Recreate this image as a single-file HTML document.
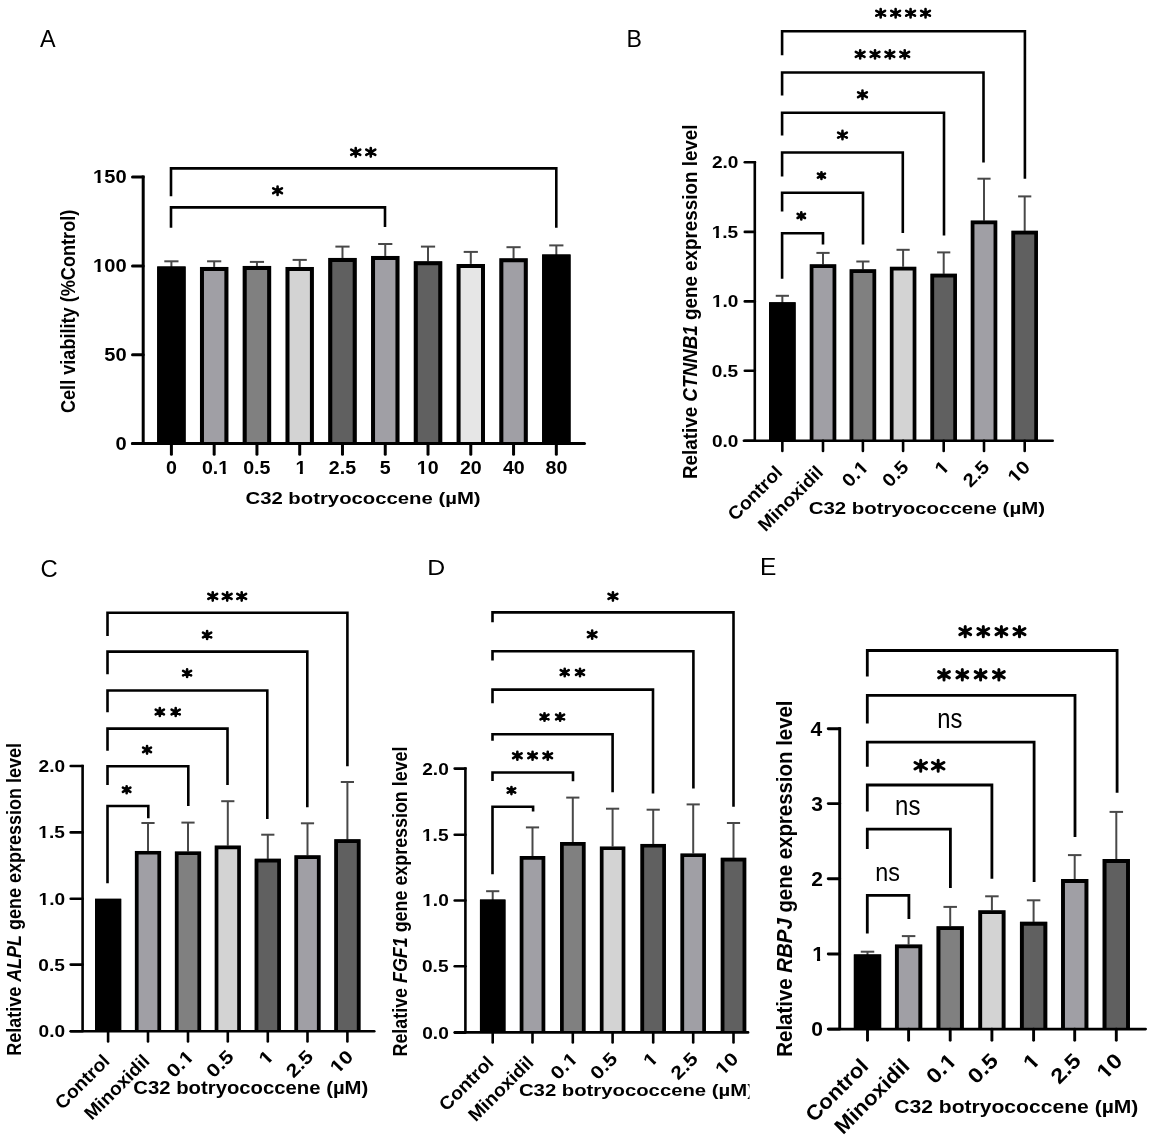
<!DOCTYPE html>
<html><head><meta charset="utf-8"><style>
html,body{margin:0;padding:0;background:#fff;width:1153px;height:1142px;overflow:hidden}
svg{display:block;filter:blur(0.5px)}
text{font-family:"Liberation Sans",sans-serif}
</style></head><body>
<svg width="1153" height="1142" viewBox="0 0 1153 1142">
<rect width="1153" height="1142" fill="#fff"/>
<g transform="translate(39.95,47.40) scale(0.9460,1)"><text font-size="24.71" font-weight="normal" fill="#000">A</text></g>
<line x1="171.40" y1="268.50" x2="171.40" y2="261.30" stroke="#484848" stroke-width="2" stroke-linecap="butt"/>
<line x1="164.30" y1="261.30" x2="178.50" y2="261.30" stroke="#484848" stroke-width="2" stroke-linecap="butt"/>
<rect x="157.20" y="266.50" width="28.40" height="177.00" fill="#000"/>
<path d="M159.20,443.50V268.50H183.60V443.50" fill="none" stroke="#000" stroke-width="4" stroke-linejoin="miter"/>
<line x1="214.17" y1="268.90" x2="214.17" y2="261.30" stroke="#484848" stroke-width="2" stroke-linecap="butt"/>
<line x1="207.07" y1="261.30" x2="221.27" y2="261.30" stroke="#484848" stroke-width="2" stroke-linecap="butt"/>
<rect x="199.97" y="266.90" width="28.40" height="176.60" fill="#a09fa5"/>
<path d="M201.97,443.50V268.90H226.37V443.50" fill="none" stroke="#000" stroke-width="4" stroke-linejoin="miter"/>
<line x1="256.94" y1="267.90" x2="256.94" y2="261.90" stroke="#484848" stroke-width="2" stroke-linecap="butt"/>
<line x1="249.84" y1="261.90" x2="264.04" y2="261.90" stroke="#484848" stroke-width="2" stroke-linecap="butt"/>
<rect x="242.74" y="265.90" width="28.40" height="177.60" fill="#808080"/>
<path d="M244.74,443.50V267.90H269.14V443.50" fill="none" stroke="#000" stroke-width="4" stroke-linejoin="miter"/>
<line x1="299.71" y1="268.90" x2="299.71" y2="259.90" stroke="#484848" stroke-width="2" stroke-linecap="butt"/>
<line x1="292.61" y1="259.90" x2="306.81" y2="259.90" stroke="#484848" stroke-width="2" stroke-linecap="butt"/>
<rect x="285.51" y="266.90" width="28.40" height="176.60" fill="#d3d3d3"/>
<path d="M287.51,443.50V268.90H311.91V443.50" fill="none" stroke="#000" stroke-width="4" stroke-linejoin="miter"/>
<line x1="342.48" y1="259.90" x2="342.48" y2="246.60" stroke="#484848" stroke-width="2" stroke-linecap="butt"/>
<line x1="335.38" y1="246.60" x2="349.58" y2="246.60" stroke="#484848" stroke-width="2" stroke-linecap="butt"/>
<rect x="328.28" y="257.90" width="28.40" height="185.60" fill="#606060"/>
<path d="M330.28,443.50V259.90H354.68V443.50" fill="none" stroke="#000" stroke-width="4" stroke-linejoin="miter"/>
<line x1="385.25" y1="257.90" x2="385.25" y2="244.00" stroke="#484848" stroke-width="2" stroke-linecap="butt"/>
<line x1="378.15" y1="244.00" x2="392.35" y2="244.00" stroke="#484848" stroke-width="2" stroke-linecap="butt"/>
<rect x="371.05" y="255.90" width="28.40" height="187.60" fill="#a09fa5"/>
<path d="M373.05,443.50V257.90H397.45V443.50" fill="none" stroke="#000" stroke-width="4" stroke-linejoin="miter"/>
<line x1="428.02" y1="263.30" x2="428.02" y2="246.60" stroke="#484848" stroke-width="2" stroke-linecap="butt"/>
<line x1="420.92" y1="246.60" x2="435.12" y2="246.60" stroke="#484848" stroke-width="2" stroke-linecap="butt"/>
<rect x="413.82" y="261.30" width="28.40" height="182.20" fill="#606060"/>
<path d="M415.82,443.50V263.30H440.22V443.50" fill="none" stroke="#000" stroke-width="4" stroke-linejoin="miter"/>
<line x1="470.79" y1="265.90" x2="470.79" y2="251.90" stroke="#484848" stroke-width="2" stroke-linecap="butt"/>
<line x1="463.69" y1="251.90" x2="477.89" y2="251.90" stroke="#484848" stroke-width="2" stroke-linecap="butt"/>
<rect x="456.59" y="263.90" width="28.40" height="179.60" fill="#e6e6e6"/>
<path d="M458.59,443.50V265.90H482.99V443.50" fill="none" stroke="#000" stroke-width="4" stroke-linejoin="miter"/>
<line x1="513.56" y1="260.30" x2="513.56" y2="247.20" stroke="#484848" stroke-width="2" stroke-linecap="butt"/>
<line x1="506.46" y1="247.20" x2="520.66" y2="247.20" stroke="#484848" stroke-width="2" stroke-linecap="butt"/>
<rect x="499.36" y="258.30" width="28.40" height="185.20" fill="#a09fa5"/>
<path d="M501.36,443.50V260.30H525.76V443.50" fill="none" stroke="#000" stroke-width="4" stroke-linejoin="miter"/>
<line x1="556.33" y1="256.50" x2="556.33" y2="245.40" stroke="#484848" stroke-width="2" stroke-linecap="butt"/>
<line x1="549.23" y1="245.40" x2="563.43" y2="245.40" stroke="#484848" stroke-width="2" stroke-linecap="butt"/>
<rect x="542.13" y="254.50" width="28.40" height="189.00" fill="#000"/>
<path d="M544.13,443.50V256.50H568.53V443.50" fill="none" stroke="#000" stroke-width="4" stroke-linejoin="miter"/>
<line x1="143.20" y1="175.50" x2="143.20" y2="443.50" stroke="#000" stroke-width="3" stroke-linecap="butt"/>
<line x1="132.50" y1="443.50" x2="143.20" y2="443.50" stroke="#000" stroke-width="3" stroke-linecap="round"/>
<line x1="132.50" y1="354.70" x2="143.20" y2="354.70" stroke="#000" stroke-width="3" stroke-linecap="round"/>
<line x1="132.50" y1="266.00" x2="143.20" y2="266.00" stroke="#000" stroke-width="3" stroke-linecap="round"/>
<line x1="132.50" y1="177.00" x2="143.20" y2="177.00" stroke="#000" stroke-width="3" stroke-linecap="round"/>
<line x1="132.50" y1="443.50" x2="584.50" y2="443.50" stroke="#000" stroke-width="3" stroke-linecap="round"/>
<line x1="171.40" y1="443.50" x2="171.40" y2="454.30" stroke="#000" stroke-width="3" stroke-linecap="round"/>
<line x1="214.17" y1="443.50" x2="214.17" y2="454.30" stroke="#000" stroke-width="3" stroke-linecap="round"/>
<line x1="256.94" y1="443.50" x2="256.94" y2="454.30" stroke="#000" stroke-width="3" stroke-linecap="round"/>
<line x1="299.71" y1="443.50" x2="299.71" y2="454.30" stroke="#000" stroke-width="3" stroke-linecap="round"/>
<line x1="342.48" y1="443.50" x2="342.48" y2="454.30" stroke="#000" stroke-width="3" stroke-linecap="round"/>
<line x1="385.25" y1="443.50" x2="385.25" y2="454.30" stroke="#000" stroke-width="3" stroke-linecap="round"/>
<line x1="428.02" y1="443.50" x2="428.02" y2="454.30" stroke="#000" stroke-width="3" stroke-linecap="round"/>
<line x1="470.79" y1="443.50" x2="470.79" y2="454.30" stroke="#000" stroke-width="3" stroke-linecap="round"/>
<line x1="513.56" y1="443.50" x2="513.56" y2="454.30" stroke="#000" stroke-width="3" stroke-linecap="round"/>
<line x1="556.33" y1="443.50" x2="556.33" y2="454.30" stroke="#000" stroke-width="3" stroke-linecap="round"/>
<g transform="translate(115.43,449.61) scale(1.1500,1)"><text font-size="17.50" font-weight="bold">0</text></g>
<g transform="translate(104.24,360.81) scale(1.1500,1)"><text font-size="17.50" font-weight="bold">50</text></g>
<g transform="translate(93.05,272.11) scale(1.1500,1)"><text font-size="17.50" font-weight="bold">100</text><rect x="0.34" y="-2.48" width="3.62" height="3.68" fill="#fff"/><rect x="6.61" y="-2.48" width="3.31" height="3.68" fill="#fff"/></g>
<g transform="translate(93.05,183.11) scale(1.1500,1)"><text font-size="17.50" font-weight="bold">150</text><rect x="0.34" y="-2.48" width="3.62" height="3.68" fill="#fff"/><rect x="6.61" y="-2.48" width="3.31" height="3.68" fill="#fff"/></g>
<polyline points="171.00,196.30 171.00,168.40 556.30,168.40 556.30,227.80" fill="none" stroke="#000" stroke-width="2.6" stroke-linejoin="miter" stroke-linecap="butt"/>
<polyline points="171.00,227.70 171.00,207.40 385.00,207.40 385.00,227.10" fill="none" stroke="#000" stroke-width="2.6" stroke-linejoin="miter" stroke-linecap="butt"/>
<path d="M355.72,148.00V156.60M351.20,149.72L360.25,154.88M351.20,154.88L360.25,149.72" stroke="#000" stroke-width="2.6" stroke-linecap="round" fill="none"/>
<circle cx="355.72" cy="152.30" r="2.47" fill="#000"/>
<path d="M370.78,148.00V156.60M366.25,149.72L375.30,154.88M366.25,154.88L375.30,149.72" stroke="#000" stroke-width="2.6" stroke-linecap="round" fill="none"/>
<circle cx="370.78" cy="152.30" r="2.47" fill="#000"/>
<path d="M277.57,186.60V194.90M273.20,188.26L281.94,193.24M273.20,193.24L281.94,188.26" stroke="#000" stroke-width="2.6" stroke-linecap="round" fill="none"/>
<circle cx="277.57" cy="190.75" r="2.47" fill="#000"/>
<g transform="translate(165.96,474.47) scale(1.0900,1)"><text font-size="18.00" font-weight="bold">0</text></g>
<g transform="translate(201.96,474.47) scale(1.0900,1)"><text font-size="18.00" font-weight="bold">0.1</text><rect x="15.36" y="-2.55" width="3.73" height="3.75" fill="#fff"/><rect x="21.81" y="-2.55" width="3.40" height="3.75" fill="#fff"/></g>
<g transform="translate(243.19,474.47) scale(1.0900,1)"><text font-size="18.00" font-weight="bold">0.5</text></g>
<g transform="translate(295.40,474.28) scale(1.0900,1)"><text font-size="18.00" font-weight="bold">1</text><rect x="0.35" y="-2.55" width="3.73" height="3.75" fill="#fff"/><rect x="6.79" y="-2.55" width="3.40" height="3.75" fill="#fff"/></g>
<g transform="translate(328.78,474.47) scale(1.0900,1)"><text font-size="18.00" font-weight="bold">2.5</text></g>
<g transform="translate(379.77,474.28) scale(1.0900,1)"><text font-size="18.00" font-weight="bold">5</text></g>
<g transform="translate(416.84,474.47) scale(1.0900,1)"><text font-size="18.00" font-weight="bold">10</text><rect x="0.35" y="-2.55" width="3.73" height="3.75" fill="#fff"/><rect x="6.79" y="-2.55" width="3.40" height="3.75" fill="#fff"/></g>
<g transform="translate(459.94,474.47) scale(1.0900,1)"><text font-size="18.00" font-weight="bold">20</text></g>
<g transform="translate(502.90,474.47) scale(1.0900,1)"><text font-size="18.00" font-weight="bold">40</text></g>
<g transform="translate(545.51,474.47) scale(1.0900,1)"><text font-size="18.00" font-weight="bold">80</text></g>
<g transform="translate(245.47,504.40) scale(1.2807,1)"><text font-size="15.87" font-weight="bold" fill="#000">C32 botryococcene (µM)</text></g>
<text transform="translate(74.90,413.04) rotate(-90) scale(0.8875,1)" font-size="20.42" font-weight="bold">Cell viability (%Control)</text>
<g transform="translate(626.50,46.80) scale(0.9695,1)"><text font-size="23.84" font-weight="normal" fill="#000">B</text></g>
<line x1="782.35" y1="304.30" x2="782.35" y2="295.80" stroke="#484848" stroke-width="2" stroke-linecap="butt"/>
<line x1="775.75" y1="295.80" x2="788.95" y2="295.80" stroke="#484848" stroke-width="2" stroke-linecap="butt"/>
<rect x="769.10" y="302.30" width="26.50" height="138.50" fill="#000"/>
<path d="M770.95,440.80V304.15H793.75V440.80" fill="none" stroke="#000" stroke-width="3.7" stroke-linejoin="miter"/>
<line x1="823.00" y1="266.30" x2="823.00" y2="252.90" stroke="#484848" stroke-width="2" stroke-linecap="butt"/>
<line x1="816.40" y1="252.90" x2="829.60" y2="252.90" stroke="#484848" stroke-width="2" stroke-linecap="butt"/>
<rect x="809.75" y="264.30" width="26.50" height="176.50" fill="#a09fa5"/>
<path d="M811.60,440.80V266.15H834.40V440.80" fill="none" stroke="#000" stroke-width="3.7" stroke-linejoin="miter"/>
<line x1="862.90" y1="271.30" x2="862.90" y2="261.50" stroke="#484848" stroke-width="2" stroke-linecap="butt"/>
<line x1="856.30" y1="261.50" x2="869.50" y2="261.50" stroke="#484848" stroke-width="2" stroke-linecap="butt"/>
<rect x="849.65" y="269.30" width="26.50" height="171.50" fill="#808080"/>
<path d="M851.50,440.80V271.15H874.30V440.80" fill="none" stroke="#000" stroke-width="3.7" stroke-linejoin="miter"/>
<line x1="903.10" y1="268.70" x2="903.10" y2="249.80" stroke="#484848" stroke-width="2" stroke-linecap="butt"/>
<line x1="896.50" y1="249.80" x2="909.70" y2="249.80" stroke="#484848" stroke-width="2" stroke-linecap="butt"/>
<rect x="889.85" y="266.70" width="26.50" height="174.10" fill="#d3d3d3"/>
<path d="M891.70,440.80V268.55H914.50V440.80" fill="none" stroke="#000" stroke-width="3.7" stroke-linejoin="miter"/>
<line x1="943.70" y1="275.70" x2="943.70" y2="252.40" stroke="#484848" stroke-width="2" stroke-linecap="butt"/>
<line x1="937.10" y1="252.40" x2="950.30" y2="252.40" stroke="#484848" stroke-width="2" stroke-linecap="butt"/>
<rect x="930.45" y="273.70" width="26.50" height="167.10" fill="#606060"/>
<path d="M932.30,440.80V275.55H955.10V440.80" fill="none" stroke="#000" stroke-width="3.7" stroke-linejoin="miter"/>
<line x1="984.00" y1="222.60" x2="984.00" y2="178.70" stroke="#484848" stroke-width="2" stroke-linecap="butt"/>
<line x1="977.40" y1="178.70" x2="990.60" y2="178.70" stroke="#484848" stroke-width="2" stroke-linecap="butt"/>
<rect x="970.75" y="220.60" width="26.50" height="220.20" fill="#a09fa5"/>
<path d="M972.60,440.80V222.45H995.40V440.80" fill="none" stroke="#000" stroke-width="3.7" stroke-linejoin="miter"/>
<line x1="1024.70" y1="232.80" x2="1024.70" y2="196.40" stroke="#484848" stroke-width="2" stroke-linecap="butt"/>
<line x1="1018.10" y1="196.40" x2="1031.30" y2="196.40" stroke="#484848" stroke-width="2" stroke-linecap="butt"/>
<rect x="1011.45" y="230.80" width="26.50" height="210.00" fill="#606060"/>
<path d="M1013.30,440.80V232.65H1036.10V440.80" fill="none" stroke="#000" stroke-width="3.7" stroke-linejoin="miter"/>
<line x1="754.80" y1="160.90" x2="754.80" y2="440.80" stroke="#000" stroke-width="2.6" stroke-linecap="butt"/>
<line x1="744.80" y1="440.80" x2="754.80" y2="440.80" stroke="#000" stroke-width="2.6" stroke-linecap="round"/>
<line x1="744.80" y1="370.70" x2="754.80" y2="370.70" stroke="#000" stroke-width="2.6" stroke-linecap="round"/>
<line x1="744.80" y1="301.40" x2="754.80" y2="301.40" stroke="#000" stroke-width="2.6" stroke-linecap="round"/>
<line x1="744.80" y1="231.90" x2="754.80" y2="231.90" stroke="#000" stroke-width="2.6" stroke-linecap="round"/>
<line x1="744.80" y1="162.20" x2="754.80" y2="162.20" stroke="#000" stroke-width="2.6" stroke-linecap="round"/>
<line x1="743.90" y1="440.80" x2="1052.70" y2="440.80" stroke="#000" stroke-width="2.6" stroke-linecap="round"/>
<line x1="782.35" y1="440.80" x2="782.35" y2="451.00" stroke="#000" stroke-width="2.6" stroke-linecap="round"/>
<line x1="823.00" y1="440.80" x2="823.00" y2="451.00" stroke="#000" stroke-width="2.6" stroke-linecap="round"/>
<line x1="862.90" y1="440.80" x2="862.90" y2="451.00" stroke="#000" stroke-width="2.6" stroke-linecap="round"/>
<line x1="903.10" y1="440.80" x2="903.10" y2="451.00" stroke="#000" stroke-width="2.6" stroke-linecap="round"/>
<line x1="943.70" y1="440.80" x2="943.70" y2="451.00" stroke="#000" stroke-width="2.6" stroke-linecap="round"/>
<line x1="984.00" y1="440.80" x2="984.00" y2="451.00" stroke="#000" stroke-width="2.6" stroke-linecap="round"/>
<line x1="1024.70" y1="440.80" x2="1024.70" y2="451.00" stroke="#000" stroke-width="2.6" stroke-linecap="round"/>
<g transform="translate(711.94,446.70) scale(1.1300,1)"><text font-size="16.90" font-weight="bold">0.0</text></g>
<g transform="translate(711.68,376.60) scale(1.1300,1)"><text font-size="16.90" font-weight="bold">0.5</text></g>
<g transform="translate(711.94,307.30) scale(1.1300,1)"><text font-size="16.90" font-weight="bold">1.0</text><rect x="0.33" y="-2.39" width="3.50" height="3.59" fill="#fff"/><rect x="6.38" y="-2.39" width="3.19" height="3.59" fill="#fff"/></g>
<g transform="translate(711.68,237.71) scale(1.1300,1)"><text font-size="16.90" font-weight="bold">1.5</text><rect x="0.33" y="-2.39" width="3.50" height="3.59" fill="#fff"/><rect x="6.38" y="-2.39" width="3.19" height="3.59" fill="#fff"/></g>
<g transform="translate(711.94,168.10) scale(1.1300,1)"><text font-size="16.90" font-weight="bold">2.0</text></g>
<polyline points="782.10,55.30 782.10,31.20 1024.90,31.20 1024.90,178.70" fill="none" stroke="#000" stroke-width="2.6" stroke-linejoin="miter" stroke-linecap="butt"/>
<polyline points="782.10,95.50 782.10,72.50 983.50,72.50 983.50,162.60" fill="none" stroke="#000" stroke-width="2.6" stroke-linejoin="miter" stroke-linecap="butt"/>
<polyline points="782.10,135.60 782.10,112.70 944.00,112.70 944.00,235.50" fill="none" stroke="#000" stroke-width="2.6" stroke-linejoin="miter" stroke-linecap="butt"/>
<polyline points="782.10,176.40 782.10,152.50 902.80,152.50 902.80,232.90" fill="none" stroke="#000" stroke-width="2.6" stroke-linejoin="miter" stroke-linecap="butt"/>
<polyline points="782.10,211.50 782.10,192.70 863.00,192.70 863.00,244.60" fill="none" stroke="#000" stroke-width="2.6" stroke-linejoin="miter" stroke-linecap="butt"/>
<polyline points="782.10,278.80 782.10,233.30 823.00,233.30 823.00,244.60" fill="none" stroke="#000" stroke-width="2.6" stroke-linejoin="miter" stroke-linecap="butt"/>
<path d="M880.67,9.10V17.40M876.30,10.76L885.04,15.74M876.30,15.74L885.04,10.76" stroke="#000" stroke-width="2.6" stroke-linecap="round" fill="none"/>
<circle cx="880.67" cy="13.25" r="2.47" fill="#000"/>
<path d="M895.62,9.10V17.40M891.25,10.76L899.99,15.74M891.25,15.74L899.99,10.76" stroke="#000" stroke-width="2.6" stroke-linecap="round" fill="none"/>
<circle cx="895.62" cy="13.25" r="2.47" fill="#000"/>
<path d="M910.58,9.10V17.40M906.21,10.76L914.95,15.74M906.21,15.74L914.95,10.76" stroke="#000" stroke-width="2.6" stroke-linecap="round" fill="none"/>
<circle cx="910.58" cy="13.25" r="2.47" fill="#000"/>
<path d="M925.53,9.10V17.40M921.16,10.76L929.90,15.74M921.16,15.74L929.90,10.76" stroke="#000" stroke-width="2.6" stroke-linecap="round" fill="none"/>
<circle cx="925.53" cy="13.25" r="2.47" fill="#000"/>
<path d="M860.17,50.20V58.50M855.80,51.86L864.54,56.84M855.80,56.84L864.54,51.86" stroke="#000" stroke-width="2.6" stroke-linecap="round" fill="none"/>
<circle cx="860.17" cy="54.35" r="2.47" fill="#000"/>
<path d="M875.02,50.20V58.50M870.65,51.86L879.39,56.84M870.65,56.84L879.39,51.86" stroke="#000" stroke-width="2.6" stroke-linecap="round" fill="none"/>
<circle cx="875.02" cy="54.35" r="2.47" fill="#000"/>
<path d="M889.88,50.20V58.50M885.51,51.86L894.25,56.84M885.51,56.84L894.25,51.86" stroke="#000" stroke-width="2.6" stroke-linecap="round" fill="none"/>
<circle cx="889.88" cy="54.35" r="2.47" fill="#000"/>
<path d="M904.73,50.20V58.50M900.36,51.86L909.10,56.84M900.36,56.84L909.10,51.86" stroke="#000" stroke-width="2.6" stroke-linecap="round" fill="none"/>
<circle cx="904.73" cy="54.35" r="2.47" fill="#000"/>
<path d="M862.47,90.60V98.90M858.10,92.26L866.84,97.24M858.10,97.24L866.84,92.26" stroke="#000" stroke-width="2.6" stroke-linecap="round" fill="none"/>
<circle cx="862.47" cy="94.75" r="2.47" fill="#000"/>
<path d="M842.47,130.90V139.20M838.10,132.56L846.84,137.54M838.10,137.54L846.84,132.56" stroke="#000" stroke-width="2.6" stroke-linecap="round" fill="none"/>
<circle cx="842.47" cy="135.05" r="2.47" fill="#000"/>
<path d="M821.44,172.20V178.90M817.90,173.54L824.97,177.56M817.90,177.56L824.97,173.54" stroke="#000" stroke-width="2.6" stroke-linecap="round" fill="none"/>
<circle cx="821.44" cy="175.55" r="2.47" fill="#000"/>
<path d="M801.29,212.40V219.40M797.60,213.80L804.98,218.00M797.60,218.00L804.98,213.80" stroke="#000" stroke-width="2.6" stroke-linecap="round" fill="none"/>
<circle cx="801.29" cy="215.90" r="2.47" fill="#000"/>
<g transform="translate(783.65,473.50) rotate(-45) scale(1.0400,1)"><text font-size="18.50" font-weight="bold" text-anchor="end">Control</text></g>
<g transform="translate(824.30,473.50) rotate(-45) scale(1.0400,1)"><text font-size="18.50" font-weight="bold" text-anchor="end">Minoxidil</text></g>
<g transform="translate(869.50,468.20) rotate(-45) scale(1.1024,1)"><text font-size="18.50" font-weight="bold" text-anchor="end">0.1</text><rect x="-9.93" y="-2.62" width="3.83" height="3.82" fill="#fff"/><rect x="-3.31" y="-2.62" width="3.50" height="3.82" fill="#fff"/></g>
<g transform="translate(909.70,468.20) rotate(-45) scale(1.1024,1)"><text font-size="18.50" font-weight="bold" text-anchor="end">0.5</text></g>
<g transform="translate(950.30,468.20) rotate(-45) scale(1.1024,1)"><text font-size="18.50" font-weight="bold" text-anchor="end">1</text><rect x="-9.93" y="-2.62" width="3.83" height="3.82" fill="#fff"/><rect x="-3.31" y="-2.62" width="3.50" height="3.82" fill="#fff"/></g>
<g transform="translate(990.60,468.20) rotate(-45) scale(1.1024,1)"><text font-size="18.50" font-weight="bold" text-anchor="end">2.5</text></g>
<g transform="translate(1031.30,468.20) rotate(-45) scale(1.1024,1)"><text font-size="18.50" font-weight="bold" text-anchor="end">10</text><rect x="-20.22" y="-2.62" width="3.83" height="3.82" fill="#fff"/><rect x="-13.59" y="-2.62" width="3.50" height="3.82" fill="#fff"/></g>
<g transform="translate(808.66,513.70) scale(1.2435,1)"><text font-size="16.42" font-weight="bold" fill="#000">C32 botryococcene (µM)</text></g>
<text transform="translate(696.70,479.06) rotate(-90) scale(0.9479,1)" font-size="19.87" font-weight="bold"><tspan font-style="normal">Relative </tspan><tspan font-style="italic">CTNNB1</tspan><tspan font-style="normal"> gene expression level</tspan></text>
<g transform="translate(40.49,577.40) scale(1.0214,1)"><text font-size="23.34" font-weight="normal" fill="#000">C</text></g>
<rect x="95.00" y="898.80" width="26.20" height="132.40" fill="#000"/>
<path d="M96.85,1031.20V900.65H119.35V1031.20" fill="none" stroke="#000" stroke-width="3.7" stroke-linejoin="miter"/>
<line x1="148.00" y1="852.90" x2="148.00" y2="823.00" stroke="#484848" stroke-width="2" stroke-linecap="butt"/>
<line x1="141.40" y1="823.00" x2="154.60" y2="823.00" stroke="#484848" stroke-width="2" stroke-linecap="butt"/>
<rect x="134.90" y="850.90" width="26.20" height="180.30" fill="#a09fa5"/>
<path d="M136.75,1031.20V852.75H159.25V1031.20" fill="none" stroke="#000" stroke-width="3.7" stroke-linejoin="miter"/>
<line x1="188.00" y1="853.40" x2="188.00" y2="822.60" stroke="#484848" stroke-width="2" stroke-linecap="butt"/>
<line x1="181.40" y1="822.60" x2="194.60" y2="822.60" stroke="#484848" stroke-width="2" stroke-linecap="butt"/>
<rect x="174.90" y="851.40" width="26.20" height="179.80" fill="#808080"/>
<path d="M176.75,1031.20V853.25H199.25V1031.20" fill="none" stroke="#000" stroke-width="3.7" stroke-linejoin="miter"/>
<line x1="227.80" y1="847.60" x2="227.80" y2="801.20" stroke="#484848" stroke-width="2" stroke-linecap="butt"/>
<line x1="221.20" y1="801.20" x2="234.40" y2="801.20" stroke="#484848" stroke-width="2" stroke-linecap="butt"/>
<rect x="214.70" y="845.60" width="26.20" height="185.60" fill="#d3d3d3"/>
<path d="M216.55,1031.20V847.45H239.05V1031.20" fill="none" stroke="#000" stroke-width="3.7" stroke-linejoin="miter"/>
<line x1="267.80" y1="860.70" x2="267.80" y2="834.70" stroke="#484848" stroke-width="2" stroke-linecap="butt"/>
<line x1="261.20" y1="834.70" x2="274.40" y2="834.70" stroke="#484848" stroke-width="2" stroke-linecap="butt"/>
<rect x="254.70" y="858.70" width="26.20" height="172.50" fill="#606060"/>
<path d="M256.55,1031.20V860.55H279.05V1031.20" fill="none" stroke="#000" stroke-width="3.7" stroke-linejoin="miter"/>
<line x1="307.50" y1="857.30" x2="307.50" y2="823.30" stroke="#484848" stroke-width="2" stroke-linecap="butt"/>
<line x1="300.90" y1="823.30" x2="314.10" y2="823.30" stroke="#484848" stroke-width="2" stroke-linecap="butt"/>
<rect x="294.40" y="855.30" width="26.20" height="175.90" fill="#a09fa5"/>
<path d="M296.25,1031.20V857.15H318.75V1031.20" fill="none" stroke="#000" stroke-width="3.7" stroke-linejoin="miter"/>
<line x1="347.40" y1="841.20" x2="347.40" y2="782.00" stroke="#484848" stroke-width="2" stroke-linecap="butt"/>
<line x1="340.80" y1="782.00" x2="354.00" y2="782.00" stroke="#484848" stroke-width="2" stroke-linecap="butt"/>
<rect x="334.30" y="839.20" width="26.20" height="192.00" fill="#606060"/>
<path d="M336.15,1031.20V841.05H358.65V1031.20" fill="none" stroke="#000" stroke-width="3.7" stroke-linejoin="miter"/>
<line x1="82.60" y1="764.70" x2="82.60" y2="1031.20" stroke="#000" stroke-width="2.6" stroke-linecap="butt"/>
<line x1="70.70" y1="1031.20" x2="82.60" y2="1031.20" stroke="#000" stroke-width="2.6" stroke-linecap="round"/>
<line x1="70.70" y1="964.60" x2="82.60" y2="964.60" stroke="#000" stroke-width="2.6" stroke-linecap="round"/>
<line x1="70.70" y1="898.80" x2="82.60" y2="898.80" stroke="#000" stroke-width="2.6" stroke-linecap="round"/>
<line x1="70.70" y1="832.40" x2="82.60" y2="832.40" stroke="#000" stroke-width="2.6" stroke-linecap="round"/>
<line x1="70.70" y1="766.00" x2="82.60" y2="766.00" stroke="#000" stroke-width="2.6" stroke-linecap="round"/>
<line x1="71.00" y1="1031.20" x2="374.30" y2="1031.20" stroke="#000" stroke-width="2.6" stroke-linecap="round"/>
<line x1="108.10" y1="1031.20" x2="108.10" y2="1041.50" stroke="#000" stroke-width="2.6" stroke-linecap="round"/>
<line x1="148.00" y1="1031.20" x2="148.00" y2="1041.50" stroke="#000" stroke-width="2.6" stroke-linecap="round"/>
<line x1="188.00" y1="1031.20" x2="188.00" y2="1041.50" stroke="#000" stroke-width="2.6" stroke-linecap="round"/>
<line x1="227.80" y1="1031.20" x2="227.80" y2="1041.50" stroke="#000" stroke-width="2.6" stroke-linecap="round"/>
<line x1="267.80" y1="1031.20" x2="267.80" y2="1041.50" stroke="#000" stroke-width="2.6" stroke-linecap="round"/>
<line x1="307.50" y1="1031.20" x2="307.50" y2="1041.50" stroke="#000" stroke-width="2.6" stroke-linecap="round"/>
<line x1="347.40" y1="1031.20" x2="347.40" y2="1041.50" stroke="#000" stroke-width="2.6" stroke-linecap="round"/>
<g transform="translate(38.54,1037.10) scale(1.1300,1)"><text font-size="16.90" font-weight="bold">0.0</text></g>
<g transform="translate(38.28,970.50) scale(1.1300,1)"><text font-size="16.90" font-weight="bold">0.5</text></g>
<g transform="translate(38.54,904.70) scale(1.1300,1)"><text font-size="16.90" font-weight="bold">1.0</text><rect x="0.33" y="-2.39" width="3.50" height="3.59" fill="#fff"/><rect x="6.38" y="-2.39" width="3.19" height="3.59" fill="#fff"/></g>
<g transform="translate(38.28,838.21) scale(1.1300,1)"><text font-size="16.90" font-weight="bold">1.5</text><rect x="0.33" y="-2.39" width="3.50" height="3.59" fill="#fff"/><rect x="6.38" y="-2.39" width="3.19" height="3.59" fill="#fff"/></g>
<g transform="translate(38.54,771.90) scale(1.1300,1)"><text font-size="16.90" font-weight="bold">2.0</text></g>
<polyline points="107.50,635.90 107.50,612.80 347.40,612.80 347.40,766.20" fill="none" stroke="#000" stroke-width="2.6" stroke-linejoin="miter" stroke-linecap="butt"/>
<polyline points="107.50,674.20 107.50,651.60 307.30,651.60 307.30,807.30" fill="none" stroke="#000" stroke-width="2.6" stroke-linejoin="miter" stroke-linecap="butt"/>
<polyline points="107.50,712.30 107.50,690.50 267.30,690.50 267.30,818.90" fill="none" stroke="#000" stroke-width="2.6" stroke-linejoin="miter" stroke-linecap="butt"/>
<polyline points="107.50,750.70 107.50,728.60 227.50,728.60 227.50,784.90" fill="none" stroke="#000" stroke-width="2.6" stroke-linejoin="miter" stroke-linecap="butt"/>
<polyline points="107.50,784.90 107.50,766.20 188.30,766.20 188.30,806.00" fill="none" stroke="#000" stroke-width="2.6" stroke-linejoin="miter" stroke-linecap="butt"/>
<polyline points="107.50,883.30 107.50,806.00 148.30,806.00 148.30,818.20" fill="none" stroke="#000" stroke-width="2.6" stroke-linejoin="miter" stroke-linecap="butt"/>
<path d="M212.72,592.20V600.60M208.30,593.88L217.14,598.92M208.30,598.92L217.14,593.88" stroke="#000" stroke-width="2.6" stroke-linecap="round" fill="none"/>
<circle cx="212.72" cy="596.40" r="2.47" fill="#000"/>
<path d="M227.20,592.20V600.60M222.78,593.88L231.62,598.92M222.78,598.92L231.62,593.88" stroke="#000" stroke-width="2.6" stroke-linecap="round" fill="none"/>
<circle cx="227.20" cy="596.40" r="2.47" fill="#000"/>
<path d="M241.68,592.20V600.60M237.26,593.88L246.10,598.92M237.26,598.92L246.10,593.88" stroke="#000" stroke-width="2.6" stroke-linecap="round" fill="none"/>
<circle cx="241.68" cy="596.40" r="2.47" fill="#000"/>
<path d="M207.11,631.10V638.90M203.00,632.66L211.22,637.34M203.00,637.34L211.22,632.66" stroke="#000" stroke-width="2.6" stroke-linecap="round" fill="none"/>
<circle cx="207.11" cy="635.00" r="2.47" fill="#000"/>
<path d="M187.10,669.40V677.00M183.10,670.92L191.11,675.48M183.10,675.48L191.11,670.92" stroke="#000" stroke-width="2.6" stroke-linecap="round" fill="none"/>
<circle cx="187.10" cy="673.20" r="2.47" fill="#000"/>
<path d="M159.81,708.10V715.90M155.70,709.66L163.92,714.34M155.70,714.34L163.92,709.66" stroke="#000" stroke-width="2.6" stroke-linecap="round" fill="none"/>
<circle cx="159.81" cy="712.00" r="2.47" fill="#000"/>
<path d="M175.69,708.10V715.90M171.58,709.66L179.80,714.34M171.58,714.34L179.80,709.66" stroke="#000" stroke-width="2.6" stroke-linecap="round" fill="none"/>
<circle cx="175.69" cy="712.00" r="2.47" fill="#000"/>
<path d="M147.05,746.10V753.60M143.10,747.60L151.00,752.10M143.10,752.10L151.00,747.60" stroke="#000" stroke-width="2.6" stroke-linecap="round" fill="none"/>
<circle cx="147.05" cy="749.85" r="2.47" fill="#000"/>
<path d="M126.64,786.20V793.30M122.90,787.62L130.39,791.88M122.90,791.88L130.39,787.62" stroke="#000" stroke-width="2.6" stroke-linecap="round" fill="none"/>
<circle cx="126.64" cy="789.75" r="2.47" fill="#000"/>
<g transform="translate(110.80,1062.10) rotate(-45) scale(1.0400,1)"><text font-size="18.50" font-weight="bold" text-anchor="end">Control</text></g>
<g transform="translate(150.70,1062.10) rotate(-45) scale(1.0400,1)"><text font-size="18.50" font-weight="bold" text-anchor="end">Minoxidil</text></g>
<g transform="translate(195.01,1057.79) rotate(-45) scale(1.1596,1)"><text font-size="18.50" font-weight="bold" text-anchor="end">0.1</text><rect x="-9.93" y="-2.62" width="3.83" height="3.82" fill="#fff"/><rect x="-3.31" y="-2.62" width="3.50" height="3.82" fill="#fff"/></g>
<g transform="translate(234.81,1057.79) rotate(-45) scale(1.1596,1)"><text font-size="18.50" font-weight="bold" text-anchor="end">0.5</text></g>
<g transform="translate(274.81,1057.79) rotate(-45) scale(1.1596,1)"><text font-size="18.50" font-weight="bold" text-anchor="end">1</text><rect x="-9.93" y="-2.62" width="3.83" height="3.82" fill="#fff"/><rect x="-3.31" y="-2.62" width="3.50" height="3.82" fill="#fff"/></g>
<g transform="translate(314.51,1057.79) rotate(-45) scale(1.1596,1)"><text font-size="18.50" font-weight="bold" text-anchor="end">2.5</text></g>
<g transform="translate(354.41,1057.79) rotate(-45) scale(1.1596,1)"><text font-size="18.50" font-weight="bold" text-anchor="end">10</text><rect x="-20.22" y="-2.62" width="3.83" height="3.82" fill="#fff"/><rect x="-13.59" y="-2.62" width="3.50" height="3.82" fill="#fff"/></g>
<g transform="translate(133.37,1093.70) scale(1.1577,1)"><text font-size="17.53" font-weight="bold" fill="#000">C32 botryococcene (µM)</text></g>
<text transform="translate(21.00,1055.80) rotate(-90) scale(0.9181,1)" font-size="19.60" font-weight="bold"><tspan font-style="normal">Relative </tspan><tspan font-style="italic">ALPL</tspan><tspan font-style="normal"> gene expression level</tspan></text>
<g transform="translate(427.26,574.90) scale(1.1016,1)"><text font-size="22.53" font-weight="normal" fill="#000">D</text></g>
<line x1="492.70" y1="901.60" x2="492.70" y2="891.20" stroke="#484848" stroke-width="2" stroke-linecap="butt"/>
<line x1="486.10" y1="891.20" x2="499.30" y2="891.20" stroke="#484848" stroke-width="2" stroke-linecap="butt"/>
<rect x="479.95" y="899.60" width="25.50" height="132.80" fill="#000"/>
<path d="M481.80,1032.40V901.45H503.60V1032.40" fill="none" stroke="#000" stroke-width="3.7" stroke-linejoin="miter"/>
<line x1="532.50" y1="858.10" x2="532.50" y2="827.40" stroke="#484848" stroke-width="2" stroke-linecap="butt"/>
<line x1="525.90" y1="827.40" x2="539.10" y2="827.40" stroke="#484848" stroke-width="2" stroke-linecap="butt"/>
<rect x="519.75" y="856.10" width="25.50" height="176.30" fill="#a09fa5"/>
<path d="M521.60,1032.40V857.95H543.40V1032.40" fill="none" stroke="#000" stroke-width="3.7" stroke-linejoin="miter"/>
<line x1="572.80" y1="844.00" x2="572.80" y2="797.60" stroke="#484848" stroke-width="2" stroke-linecap="butt"/>
<line x1="566.20" y1="797.60" x2="579.40" y2="797.60" stroke="#484848" stroke-width="2" stroke-linecap="butt"/>
<rect x="560.05" y="842.00" width="25.50" height="190.40" fill="#808080"/>
<path d="M561.90,1032.40V843.85H583.70V1032.40" fill="none" stroke="#000" stroke-width="3.7" stroke-linejoin="miter"/>
<line x1="612.60" y1="848.40" x2="612.60" y2="808.70" stroke="#484848" stroke-width="2" stroke-linecap="butt"/>
<line x1="606.00" y1="808.70" x2="619.20" y2="808.70" stroke="#484848" stroke-width="2" stroke-linecap="butt"/>
<rect x="599.85" y="846.40" width="25.50" height="186.00" fill="#d3d3d3"/>
<path d="M601.70,1032.40V848.25H623.50V1032.40" fill="none" stroke="#000" stroke-width="3.7" stroke-linejoin="miter"/>
<line x1="653.20" y1="845.90" x2="653.20" y2="809.70" stroke="#484848" stroke-width="2" stroke-linecap="butt"/>
<line x1="646.60" y1="809.70" x2="659.80" y2="809.70" stroke="#484848" stroke-width="2" stroke-linecap="butt"/>
<rect x="640.45" y="843.90" width="25.50" height="188.50" fill="#606060"/>
<path d="M642.30,1032.40V845.75H664.10V1032.40" fill="none" stroke="#000" stroke-width="3.7" stroke-linejoin="miter"/>
<line x1="693.20" y1="855.40" x2="693.20" y2="804.40" stroke="#484848" stroke-width="2" stroke-linecap="butt"/>
<line x1="686.60" y1="804.40" x2="699.80" y2="804.40" stroke="#484848" stroke-width="2" stroke-linecap="butt"/>
<rect x="680.45" y="853.40" width="25.50" height="179.00" fill="#a09fa5"/>
<path d="M682.30,1032.40V855.25H704.10V1032.40" fill="none" stroke="#000" stroke-width="3.7" stroke-linejoin="miter"/>
<line x1="733.50" y1="859.80" x2="733.50" y2="823.00" stroke="#484848" stroke-width="2" stroke-linecap="butt"/>
<line x1="726.90" y1="823.00" x2="740.10" y2="823.00" stroke="#484848" stroke-width="2" stroke-linecap="butt"/>
<rect x="720.75" y="857.80" width="25.50" height="174.60" fill="#606060"/>
<path d="M722.60,1032.40V859.65H744.40V1032.40" fill="none" stroke="#000" stroke-width="3.7" stroke-linejoin="miter"/>
<line x1="465.40" y1="767.30" x2="465.40" y2="1032.40" stroke="#000" stroke-width="2.6" stroke-linecap="butt"/>
<line x1="454.70" y1="1032.60" x2="465.40" y2="1032.60" stroke="#000" stroke-width="2.6" stroke-linecap="round"/>
<line x1="454.70" y1="966.30" x2="465.40" y2="966.30" stroke="#000" stroke-width="2.6" stroke-linecap="round"/>
<line x1="454.70" y1="900.50" x2="465.40" y2="900.50" stroke="#000" stroke-width="2.6" stroke-linecap="round"/>
<line x1="454.70" y1="834.70" x2="465.40" y2="834.70" stroke="#000" stroke-width="2.6" stroke-linecap="round"/>
<line x1="454.70" y1="768.60" x2="465.40" y2="768.60" stroke="#000" stroke-width="2.6" stroke-linecap="round"/>
<line x1="455.00" y1="1032.40" x2="748.10" y2="1032.40" stroke="#000" stroke-width="2.6" stroke-linecap="round"/>
<line x1="492.70" y1="1032.40" x2="492.70" y2="1042.50" stroke="#000" stroke-width="2.6" stroke-linecap="round"/>
<line x1="532.50" y1="1032.40" x2="532.50" y2="1042.50" stroke="#000" stroke-width="2.6" stroke-linecap="round"/>
<line x1="572.80" y1="1032.40" x2="572.80" y2="1042.50" stroke="#000" stroke-width="2.6" stroke-linecap="round"/>
<line x1="612.60" y1="1032.40" x2="612.60" y2="1042.50" stroke="#000" stroke-width="2.6" stroke-linecap="round"/>
<line x1="653.20" y1="1032.40" x2="653.20" y2="1042.50" stroke="#000" stroke-width="2.6" stroke-linecap="round"/>
<line x1="693.20" y1="1032.40" x2="693.20" y2="1042.50" stroke="#000" stroke-width="2.6" stroke-linecap="round"/>
<line x1="733.50" y1="1032.40" x2="733.50" y2="1042.50" stroke="#000" stroke-width="2.6" stroke-linecap="round"/>
<g transform="translate(422.24,1038.50) scale(1.1300,1)"><text font-size="16.90" font-weight="bold">0.0</text></g>
<g transform="translate(421.98,972.20) scale(1.1300,1)"><text font-size="16.90" font-weight="bold">0.5</text></g>
<g transform="translate(422.24,906.40) scale(1.1300,1)"><text font-size="16.90" font-weight="bold">1.0</text><rect x="0.33" y="-2.39" width="3.50" height="3.59" fill="#fff"/><rect x="6.38" y="-2.39" width="3.19" height="3.59" fill="#fff"/></g>
<g transform="translate(421.98,840.51) scale(1.1300,1)"><text font-size="16.90" font-weight="bold">1.5</text><rect x="0.33" y="-2.39" width="3.50" height="3.59" fill="#fff"/><rect x="6.38" y="-2.39" width="3.19" height="3.59" fill="#fff"/></g>
<g transform="translate(422.24,774.50) scale(1.1300,1)"><text font-size="16.90" font-weight="bold">2.0</text></g>
<polyline points="492.50,622.20 492.50,612.40 733.50,612.40 733.50,806.80" fill="none" stroke="#000" stroke-width="2.6" stroke-linejoin="miter" stroke-linecap="butt"/>
<polyline points="492.50,660.50 492.50,651.20 693.40,651.20 693.40,788.60" fill="none" stroke="#000" stroke-width="2.6" stroke-linejoin="miter" stroke-linecap="butt"/>
<polyline points="492.50,703.20 492.50,689.60 653.00,689.60 653.00,793.40" fill="none" stroke="#000" stroke-width="2.6" stroke-linejoin="miter" stroke-linecap="butt"/>
<polyline points="492.50,740.70 492.50,734.20 612.60,734.20 612.60,792.20" fill="none" stroke="#000" stroke-width="2.6" stroke-linejoin="miter" stroke-linecap="butt"/>
<polyline points="492.50,781.00 492.50,772.50 573.00,772.50 573.00,781.30" fill="none" stroke="#000" stroke-width="2.6" stroke-linejoin="miter" stroke-linecap="butt"/>
<polyline points="492.50,874.30 492.50,806.80 533.10,806.80 533.10,811.60" fill="none" stroke="#000" stroke-width="2.6" stroke-linejoin="miter" stroke-linecap="butt"/>
<path d="M612.92,592.20V600.60M608.50,593.88L617.34,598.92M608.50,598.92L617.34,593.88" stroke="#000" stroke-width="2.6" stroke-linecap="round" fill="none"/>
<circle cx="612.92" cy="596.40" r="2.47" fill="#000"/>
<path d="M592.16,630.60V638.70M587.90,632.22L596.43,637.08M587.90,637.08L596.43,632.22" stroke="#000" stroke-width="2.6" stroke-linecap="round" fill="none"/>
<circle cx="592.16" cy="634.65" r="2.47" fill="#000"/>
<path d="M564.70,668.70V676.30M560.70,670.22L568.71,674.78M560.70,674.78L568.71,670.22" stroke="#000" stroke-width="2.6" stroke-linecap="round" fill="none"/>
<circle cx="564.70" cy="672.50" r="2.47" fill="#000"/>
<path d="M580.00,668.70V676.30M575.99,670.22L584.00,674.78M575.99,674.78L584.00,670.22" stroke="#000" stroke-width="2.6" stroke-linecap="round" fill="none"/>
<circle cx="580.00" cy="672.50" r="2.47" fill="#000"/>
<path d="M544.50,713.20V720.80M540.50,714.72L548.51,719.28M540.50,719.28L548.51,714.72" stroke="#000" stroke-width="2.6" stroke-linecap="round" fill="none"/>
<circle cx="544.50" cy="717.00" r="2.47" fill="#000"/>
<path d="M560.10,713.20V720.80M556.09,714.72L564.10,719.28M556.09,719.28L564.10,714.72" stroke="#000" stroke-width="2.6" stroke-linecap="round" fill="none"/>
<circle cx="560.10" cy="717.00" r="2.47" fill="#000"/>
<path d="M517.36,751.70V759.80M513.10,753.32L521.63,758.18M513.10,758.18L521.63,753.32" stroke="#000" stroke-width="2.6" stroke-linecap="round" fill="none"/>
<circle cx="517.36" cy="755.75" r="2.47" fill="#000"/>
<path d="M532.55,751.70V759.80M528.29,753.32L536.81,758.18M528.29,758.18L536.81,753.32" stroke="#000" stroke-width="2.6" stroke-linecap="round" fill="none"/>
<circle cx="532.55" cy="755.75" r="2.47" fill="#000"/>
<path d="M547.74,751.70V759.80M543.47,753.32L552.00,758.18M543.47,758.18L552.00,753.32" stroke="#000" stroke-width="2.6" stroke-linecap="round" fill="none"/>
<circle cx="547.74" cy="755.75" r="2.47" fill="#000"/>
<path d="M511.44,787.00V794.10M507.70,788.42L515.19,792.68M507.70,792.68L515.19,788.42" stroke="#000" stroke-width="2.6" stroke-linecap="round" fill="none"/>
<circle cx="511.44" cy="790.55" r="2.47" fill="#000"/>
<g transform="translate(494.90,1063.60) rotate(-45) scale(1.0400,1)"><text font-size="18.50" font-weight="bold" text-anchor="end">Control</text></g>
<g transform="translate(534.70,1063.60) rotate(-45) scale(1.0400,1)"><text font-size="18.50" font-weight="bold" text-anchor="end">Minoxidil</text></g>
<g transform="translate(578.75,1059.85) rotate(-45) scale(1.1440,1)"><text font-size="18.50" font-weight="bold" text-anchor="end">0.1</text><rect x="-9.93" y="-2.62" width="3.83" height="3.82" fill="#fff"/><rect x="-3.31" y="-2.62" width="3.50" height="3.82" fill="#fff"/></g>
<g transform="translate(618.55,1059.85) rotate(-45) scale(1.1440,1)"><text font-size="18.50" font-weight="bold" text-anchor="end">0.5</text></g>
<g transform="translate(659.15,1059.85) rotate(-45) scale(1.1440,1)"><text font-size="18.50" font-weight="bold" text-anchor="end">1</text><rect x="-9.93" y="-2.62" width="3.83" height="3.82" fill="#fff"/><rect x="-3.31" y="-2.62" width="3.50" height="3.82" fill="#fff"/></g>
<g transform="translate(699.15,1059.85) rotate(-45) scale(1.1440,1)"><text font-size="18.50" font-weight="bold" text-anchor="end">2.5</text></g>
<g transform="translate(739.45,1059.85) rotate(-45) scale(1.1440,1)"><text font-size="18.50" font-weight="bold" text-anchor="end">10</text><rect x="-20.22" y="-2.62" width="3.83" height="3.82" fill="#fff"/><rect x="-13.59" y="-2.62" width="3.50" height="3.82" fill="#fff"/></g>
<clipPath id="clipD"><rect x="0" y="1060" width="749.5" height="60"/></clipPath><g clip-path="url(#clipD)">
<g transform="translate(518.97,1095.60) scale(1.2361,1)"><text font-size="16.42" font-weight="bold" fill="#000">C32 botryococcene (µM)</text></g>
</g>
<text transform="translate(406.60,1056.50) rotate(-90) scale(0.8938,1)" font-size="20.01" font-weight="bold"><tspan font-style="normal">Relative </tspan><tspan font-style="italic">FGF1</tspan><tspan font-style="normal"> gene expression level</tspan></text>
<g transform="translate(759.99,575.40) scale(0.9990,1)"><text font-size="24.56" font-weight="normal" fill="#000">E</text></g>
<line x1="867.50" y1="956.40" x2="867.50" y2="951.70" stroke="#484848" stroke-width="2" stroke-linecap="butt"/>
<line x1="860.75" y1="951.70" x2="874.25" y2="951.70" stroke="#484848" stroke-width="2" stroke-linecap="butt"/>
<rect x="853.85" y="954.40" width="27.30" height="74.70" fill="#000"/>
<path d="M855.80,1029.10V956.35H879.20V1029.10" fill="none" stroke="#000" stroke-width="3.9" stroke-linejoin="miter"/>
<line x1="908.60" y1="946.40" x2="908.60" y2="936.10" stroke="#484848" stroke-width="2" stroke-linecap="butt"/>
<line x1="901.85" y1="936.10" x2="915.35" y2="936.10" stroke="#484848" stroke-width="2" stroke-linecap="butt"/>
<rect x="894.95" y="944.40" width="27.30" height="84.70" fill="#a09fa5"/>
<path d="M896.90,1029.10V946.35H920.30V1029.10" fill="none" stroke="#000" stroke-width="3.9" stroke-linejoin="miter"/>
<line x1="950.20" y1="928.20" x2="950.20" y2="906.90" stroke="#484848" stroke-width="2" stroke-linecap="butt"/>
<line x1="943.45" y1="906.90" x2="956.95" y2="906.90" stroke="#484848" stroke-width="2" stroke-linecap="butt"/>
<rect x="936.55" y="926.20" width="27.30" height="102.90" fill="#808080"/>
<path d="M938.50,1029.10V928.15H961.90V1029.10" fill="none" stroke="#000" stroke-width="3.9" stroke-linejoin="miter"/>
<line x1="991.90" y1="912.20" x2="991.90" y2="896.30" stroke="#484848" stroke-width="2" stroke-linecap="butt"/>
<line x1="985.15" y1="896.30" x2="998.65" y2="896.30" stroke="#484848" stroke-width="2" stroke-linecap="butt"/>
<rect x="978.25" y="910.20" width="27.30" height="118.90" fill="#d3d3d3"/>
<path d="M980.20,1029.10V912.15H1003.60V1029.10" fill="none" stroke="#000" stroke-width="3.9" stroke-linejoin="miter"/>
<line x1="1033.60" y1="923.80" x2="1033.60" y2="900.30" stroke="#484848" stroke-width="2" stroke-linecap="butt"/>
<line x1="1026.85" y1="900.30" x2="1040.35" y2="900.30" stroke="#484848" stroke-width="2" stroke-linecap="butt"/>
<rect x="1019.95" y="921.80" width="27.30" height="107.30" fill="#606060"/>
<path d="M1021.90,1029.10V923.75H1045.30V1029.10" fill="none" stroke="#000" stroke-width="3.9" stroke-linejoin="miter"/>
<line x1="1074.70" y1="881.00" x2="1074.70" y2="855.10" stroke="#484848" stroke-width="2" stroke-linecap="butt"/>
<line x1="1067.95" y1="855.10" x2="1081.45" y2="855.10" stroke="#484848" stroke-width="2" stroke-linecap="butt"/>
<rect x="1061.05" y="879.00" width="27.30" height="150.10" fill="#a09fa5"/>
<path d="M1063.00,1029.10V880.95H1086.40V1029.10" fill="none" stroke="#000" stroke-width="3.9" stroke-linejoin="miter"/>
<line x1="1116.30" y1="861.10" x2="1116.30" y2="811.90" stroke="#484848" stroke-width="2" stroke-linecap="butt"/>
<line x1="1109.55" y1="811.90" x2="1123.05" y2="811.90" stroke="#484848" stroke-width="2" stroke-linecap="butt"/>
<rect x="1102.65" y="859.10" width="27.30" height="170.00" fill="#606060"/>
<path d="M1104.60,1029.10V861.05H1128.00V1029.10" fill="none" stroke="#000" stroke-width="3.9" stroke-linejoin="miter"/>
<line x1="839.70" y1="727.35" x2="839.70" y2="1029.10" stroke="#000" stroke-width="2.9" stroke-linecap="butt"/>
<line x1="828.25" y1="1029.10" x2="839.70" y2="1029.10" stroke="#000" stroke-width="2.9" stroke-linecap="round"/>
<line x1="828.25" y1="954.00" x2="839.70" y2="954.00" stroke="#000" stroke-width="2.9" stroke-linecap="round"/>
<line x1="828.25" y1="878.70" x2="839.70" y2="878.70" stroke="#000" stroke-width="2.9" stroke-linecap="round"/>
<line x1="828.25" y1="803.60" x2="839.70" y2="803.60" stroke="#000" stroke-width="2.9" stroke-linecap="round"/>
<line x1="828.25" y1="728.80" x2="839.70" y2="728.80" stroke="#000" stroke-width="2.9" stroke-linecap="round"/>
<line x1="828.55" y1="1029.10" x2="1145.55" y2="1029.10" stroke="#000" stroke-width="2.9" stroke-linecap="round"/>
<line x1="867.50" y1="1029.10" x2="867.50" y2="1040.35" stroke="#000" stroke-width="2.9" stroke-linecap="round"/>
<line x1="908.60" y1="1029.10" x2="908.60" y2="1040.35" stroke="#000" stroke-width="2.9" stroke-linecap="round"/>
<line x1="950.20" y1="1029.10" x2="950.20" y2="1040.35" stroke="#000" stroke-width="2.9" stroke-linecap="round"/>
<line x1="991.90" y1="1029.10" x2="991.90" y2="1040.35" stroke="#000" stroke-width="2.9" stroke-linecap="round"/>
<line x1="1033.60" y1="1029.10" x2="1033.60" y2="1040.35" stroke="#000" stroke-width="2.9" stroke-linecap="round"/>
<line x1="1074.70" y1="1029.10" x2="1074.70" y2="1040.35" stroke="#000" stroke-width="2.9" stroke-linecap="round"/>
<line x1="1116.30" y1="1029.10" x2="1116.30" y2="1040.35" stroke="#000" stroke-width="2.9" stroke-linecap="round"/>
<g transform="translate(811.28,1036.43) scale(1.0000,1)"><text font-size="21.00" font-weight="bold">0</text></g>
<g transform="translate(812.22,961.22) scale(1.0000,1)"><text font-size="21.00" font-weight="bold">1</text><rect x="0.41" y="-2.97" width="4.35" height="4.17" fill="#fff"/><rect x="7.93" y="-2.97" width="3.97" height="4.17" fill="#fff"/></g>
<g transform="translate(811.26,886.03) scale(1.0000,1)"><text font-size="21.00" font-weight="bold">2</text></g>
<g transform="translate(811.18,810.93) scale(1.0000,1)"><text font-size="21.00" font-weight="bold">3</text></g>
<g transform="translate(810.53,736.02) scale(1.0000,1)"><text font-size="21.00" font-weight="bold">4</text></g>
<polyline points="867.30,676.40 867.30,650.50 1117.10,650.50 1117.10,792.70" fill="none" stroke="#000" stroke-width="2.8" stroke-linejoin="miter" stroke-linecap="butt"/>
<polyline points="867.30,723.60 867.30,695.30 1075.00,695.30 1075.00,837.10" fill="none" stroke="#000" stroke-width="2.8" stroke-linejoin="miter" stroke-linecap="butt"/>
<polyline points="867.30,766.80 867.30,742.20 1034.10,742.20 1034.10,882.00" fill="none" stroke="#000" stroke-width="2.8" stroke-linejoin="miter" stroke-linecap="butt"/>
<polyline points="867.30,811.60 867.30,785.00 991.90,785.00 991.90,878.70" fill="none" stroke="#000" stroke-width="2.8" stroke-linejoin="miter" stroke-linecap="butt"/>
<polyline points="867.30,849.10 867.30,829.20 950.40,829.20 950.40,888.00" fill="none" stroke="#000" stroke-width="2.8" stroke-linejoin="miter" stroke-linecap="butt"/>
<polyline points="867.30,933.50 867.30,895.30 908.90,895.30 908.90,918.90" fill="none" stroke="#000" stroke-width="2.8" stroke-linejoin="miter" stroke-linecap="butt"/>
<path d="M965.22,626.40V636.70M959.80,628.46L970.63,634.64M959.80,634.64L970.63,628.46" stroke="#000" stroke-width="3.0" stroke-linecap="round" fill="none"/>
<circle cx="965.22" cy="631.55" r="2.85" fill="#000"/>
<path d="M983.31,626.40V636.70M977.89,628.46L988.72,634.64M977.89,634.64L988.72,628.46" stroke="#000" stroke-width="3.0" stroke-linecap="round" fill="none"/>
<circle cx="983.31" cy="631.55" r="2.85" fill="#000"/>
<path d="M1001.39,626.40V636.70M995.98,628.46L1006.81,634.64M995.98,634.64L1006.81,628.46" stroke="#000" stroke-width="3.0" stroke-linecap="round" fill="none"/>
<circle cx="1001.39" cy="631.55" r="2.85" fill="#000"/>
<path d="M1019.48,626.40V636.70M1014.07,628.46L1024.90,634.64M1014.07,634.64L1024.90,628.46" stroke="#000" stroke-width="3.0" stroke-linecap="round" fill="none"/>
<circle cx="1019.48" cy="631.55" r="2.85" fill="#000"/>
<path d="M944.02,669.60V679.90M938.60,671.66L949.43,677.84M938.60,677.84L949.43,671.66" stroke="#000" stroke-width="3.0" stroke-linecap="round" fill="none"/>
<circle cx="944.02" cy="674.75" r="2.85" fill="#000"/>
<path d="M962.31,669.60V679.90M956.89,671.66L967.72,677.84M956.89,677.84L967.72,671.66" stroke="#000" stroke-width="3.0" stroke-linecap="round" fill="none"/>
<circle cx="962.31" cy="674.75" r="2.85" fill="#000"/>
<path d="M980.59,669.60V679.90M975.18,671.66L986.01,677.84M975.18,677.84L986.01,671.66" stroke="#000" stroke-width="3.0" stroke-linecap="round" fill="none"/>
<circle cx="980.59" cy="674.75" r="2.85" fill="#000"/>
<path d="M998.88,669.60V679.90M993.47,671.66L1004.30,677.84M993.47,677.84L1004.30,671.66" stroke="#000" stroke-width="3.0" stroke-linecap="round" fill="none"/>
<circle cx="998.88" cy="674.75" r="2.85" fill="#000"/>
<g transform="translate(937.22,727.90) scale(0.8895,1)"><text font-size="26.76" font-weight="normal" fill="#000">ns</text></g>
<path d="M920.73,760.30V771.20M915.00,762.48L926.46,769.02M915.00,769.02L926.46,762.48" stroke="#000" stroke-width="3.0" stroke-linecap="round" fill="none"/>
<circle cx="920.73" cy="765.75" r="2.85" fill="#000"/>
<path d="M938.17,760.30V771.20M932.44,762.48L943.90,769.02M932.44,769.02L943.90,762.48" stroke="#000" stroke-width="3.0" stroke-linecap="round" fill="none"/>
<circle cx="938.17" cy="765.75" r="2.85" fill="#000"/>
<g transform="translate(895.11,814.90) scale(0.8973,1)"><text font-size="26.76" font-weight="normal" fill="#000">ns</text></g>
<g transform="translate(875.25,881.30) scale(0.9118,1)"><text font-size="25.65" font-weight="normal" fill="#000">ns</text></g>
<g transform="translate(869.70,1067.30) rotate(-45) scale(1.0550,1)"><text font-size="21.00" font-weight="bold" text-anchor="end">Control</text></g>
<g transform="translate(910.80,1067.30) rotate(-45) scale(1.0550,1)"><text font-size="21.00" font-weight="bold" text-anchor="end">Minoxidil</text></g>
<g transform="translate(957.70,1062.00) rotate(-45) scale(1.1183,1)"><text font-size="21.00" font-weight="bold" text-anchor="end">0.1</text><rect x="-11.27" y="-2.97" width="4.35" height="4.17" fill="#fff"/><rect x="-3.75" y="-2.97" width="3.97" height="4.17" fill="#fff"/></g>
<g transform="translate(999.40,1062.00) rotate(-45) scale(1.1183,1)"><text font-size="21.00" font-weight="bold" text-anchor="end">0.5</text></g>
<g transform="translate(1041.10,1062.00) rotate(-45) scale(1.1183,1)"><text font-size="21.00" font-weight="bold" text-anchor="end">1</text><rect x="-11.27" y="-2.97" width="4.35" height="4.17" fill="#fff"/><rect x="-3.75" y="-2.97" width="3.97" height="4.17" fill="#fff"/></g>
<g transform="translate(1082.20,1062.00) rotate(-45) scale(1.1183,1)"><text font-size="21.00" font-weight="bold" text-anchor="end">2.5</text></g>
<g transform="translate(1123.80,1062.00) rotate(-45) scale(1.1183,1)"><text font-size="21.00" font-weight="bold" text-anchor="end">10</text><rect x="-22.95" y="-2.97" width="4.35" height="4.17" fill="#fff"/><rect x="-15.43" y="-2.97" width="3.97" height="4.17" fill="#fff"/></g>
<g transform="translate(894.23,1113.00) scale(1.1326,1)"><text font-size="18.63" font-weight="bold" fill="#000">C32 botryococcene (µM)</text></g>
<text transform="translate(791.60,1056.67) rotate(-90) scale(0.9486,1)" font-size="21.53" font-weight="bold"><tspan font-style="normal">Relative </tspan><tspan font-style="italic">RBPJ</tspan><tspan font-style="normal"> gene expression level</tspan></text>
</svg></body></html>
